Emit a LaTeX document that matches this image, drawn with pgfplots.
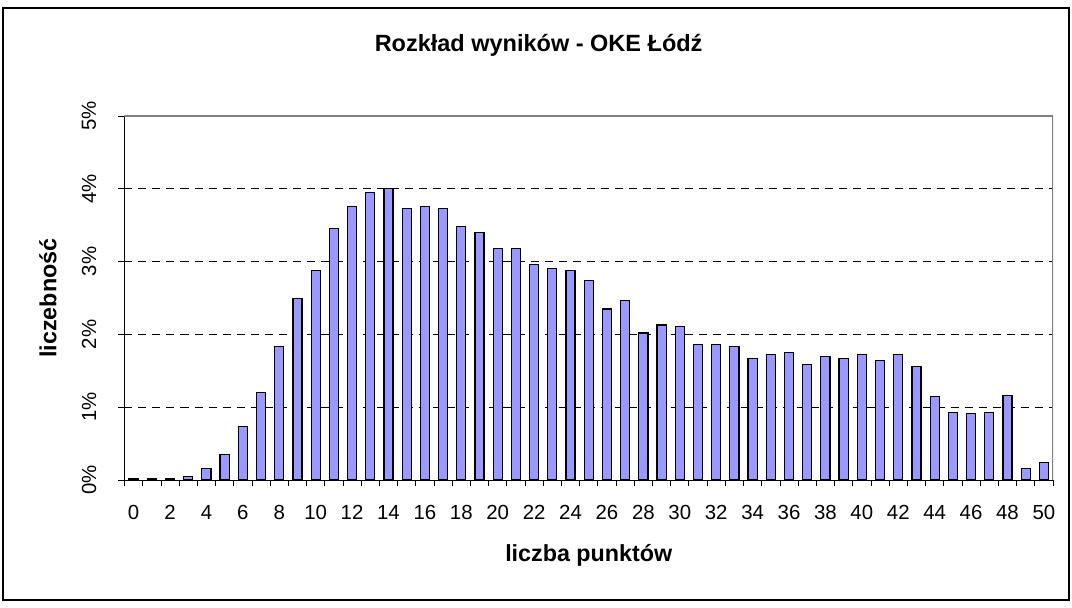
\documentclass[border=0pt]{standalone}
\usepackage{pgfplots}
\pgfplotsset{compat=1.18}
\usepackage{pgfplotstable}
\usepackage{fontspec}
\setmainfont{Liberation Sans}
\definecolor{barfill}{RGB}{153,153,255}
\definecolor{framegray}{RGB}{128,128,128}
\pgfplotstableread{
x y
0 0.02
1 0.02
2 0.02
3 0.05
4 0.16
5 0.35
6 0.73
7 1.20
8 1.83
9 2.49
10 2.88
11 3.46
12 3.76
13 3.95
14 4.00
15 3.73
16 3.76
17 3.73
18 3.48
19 3.40
20 3.18
21 3.18
22 2.96
23 2.90
24 2.88
25 2.74
26 2.35
27 2.47
28 2.02
29 2.13
30 2.11
31 1.86
32 1.86
33 1.83
34 1.67
35 1.72
36 1.75
37 1.59
38 1.70
39 1.67
40 1.72
41 1.64
42 1.72
43 1.56
44 1.15
45 0.93
46 0.91
47 0.93
48 1.16
49 0.16
50 0.24
}\datatable
\begin{document}
\begin{tikzpicture}
\path[use as bounding box] (0pt,0pt) rectangle (1072pt,608pt);
\draw[line width=1.2pt] (3pt,8pt) rectangle (1069pt,600pt);
\begin{axis}[
  at={(124.5pt,128pt)}, anchor=south west,
  scale only axis, width=928.5pt, height=364pt,
  xmin=-0.5, xmax=50.5, ymin=0, ymax=5,
  axis x line*=bottom, axis y line*=left,
  axis line style={black, line width=0.9pt},
  xtick={0,2,...,50},
  minor xtick={-0.5,0.5,...,50.5},
  ytick={0,1,...,5},
  minor ytick={0,1,...,5},
  tick align=outside,
  major tick length=0pt, minor tick length=6pt,
  tick style={black, line width=0.8pt},
  ymajorgrids,
  major grid style={black, dash pattern=on 8pt off 6pt, line width=0.8pt},
  /pgf/number format/assume math mode=true,
  yticklabel={\pgfmathprintnumber{\tick}\%},
  tick label style={font=\fontsize{20.4pt}{24pt}\selectfont},
  xticklabel style={anchor=center, yshift=-32pt},
  yticklabel style={anchor=center, xshift=-35.5pt, rotate=90},
  title={Rozkład wyników - OKE Łódź},
  title style={at={(axis description cs:0.446,1.179)}, anchor=center, font=\bfseries\fontsize{23.5pt}{28pt}\selectfont},
  xlabel={liczba punktów},
  xlabel style={at={(axis description cs:0.5,-0.206)}, anchor=center, font=\bfseries\fontsize{23.3pt}{28pt}\selectfont},
  ylabel={liczebność},
  ylabel style={at={(axis description cs:-0.0824,0.5)}, anchor=center, font=\bfseries\fontsize{23.3pt}{28pt}\selectfont},
]
\addplot[ybar, bar width=9.1pt, fill=barfill, draw=black, line width=1.2pt] table[x=x, y=y] {\datatable};
\draw[framegray, line width=1.4pt] (rel axis cs:0,1) -- (rel axis cs:1,1) -- (rel axis cs:1,0);
\end{axis}
\end{tikzpicture}
\end{document}
